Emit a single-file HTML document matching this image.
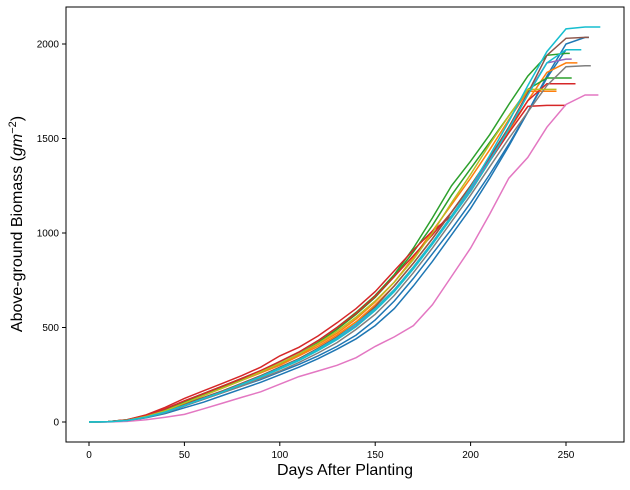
<!DOCTYPE html>
<html><head><meta charset="utf-8"><style>
body{margin:0;background:#fff;}
svg text{font-family:"Liberation Sans",sans-serif;}
</style></head><body>
<svg id="chart" width="630" height="485">
<rect x="66" y="7" width="558" height="435" fill="#fff" stroke="#000" stroke-width="1"/>
<g id="lines"></g><g id="axes"></g>
<text x="345" y="475" font-size="16" text-anchor="middle">Days After Planting</text>
<text transform="translate(22,224) rotate(-90)" font-size="16" text-anchor="middle">Above-ground Biomass (<tspan font-style="italic">gm</tspan><tspan dy="-6" font-size="11">−2</tspan><tspan dy="6">)</tspan></text>
</svg>
<script>
const xTicks=[0,50,100,150,200,250];
const yTicks=[0,500,1000,1500,2000];
const colors=["#1f77b4","#1f77b4","#ff7f0e","#ff7f0e","#2ca02c","#2ca02c","#d62728","#d62728","#9467bd","#8c564b","#e377c2","#7f7f7f","#bcbd22","#17becf","#17becf"];
const endDays=[255,262,256,245,252,253,250,255,253,262,267,263,245,268,258];
const blue1=[0,1,8,25,50,85,120,155,190,225,265,305,350,400,460,540,640,760,890,1020,1160,1310,1470,1640,1820,1970];
const blue2=[0,1,7,22,45,75,105,140,175,210,250,290,335,385,440,510,600,720,850,990,1130,1290,1460,1640,1830,2000,2035];
const orange1=[0,2,10,30,60,100,140,180,220,260,300,350,400,460,530,620,720,840,970,1110,1250,1390,1540,1700,1850,1900];
const orange2=[0,2,10,31,62,102,142,182,222,262,305,355,410,470,545,635,740,870,1010,1150,1290,1440,1600,1750,1750];
const green1=[0,2,12,35,70,110,150,190,230,270,320,370,430,500,580,670,780,920,1080,1250,1380,1520,1680,1830,1940,1950];
const green2=[0,2,11,32,65,105,145,185,225,265,310,360,420,490,570,660,770,900,1040,1200,1340,1480,1620,1760,1820,1820];
const red1=[0,2,12,38,78,125,165,205,245,290,350,395,455,525,600,690,800,910,1010,1090,1220,1380,1530,1670,1675,1675];
const red2=[0,2,11,34,70,112,150,190,230,272,320,370,430,500,575,665,770,880,990,1110,1250,1400,1550,1700,1790,1790];
const purple=[0,1,9,28,55,90,125,160,200,240,285,330,385,440,510,600,700,820,950,1090,1230,1390,1560,1740,1900,1920];
const brown=[0,1,9,28,57,95,130,165,205,245,290,335,390,450,520,610,720,840,970,1110,1250,1400,1560,1740,1940,2030,2035];
const pink=[0,0,3,12,25,40,70,100,130,160,200,240,270,300,340,400,450,510,620,770,920,1100,1290,1400,1560,1680,1730];
const gray=[0,1,8,24,50,85,120,155,190,230,270,315,365,420,490,570,670,790,920,1060,1200,1350,1500,1640,1780,1880,1885];
const olive=[0,1,9,30,60,100,140,180,220,265,310,360,415,480,555,640,740,860,1000,1160,1310,1470,1620,1760,1760];
const cyan=[0,1,8,25,52,88,125,160,200,240,285,330,385,445,520,600,700,820,950,1090,1240,1410,1590,1780,1960,2080,2090];
const blue3=[0,1,8,26,53,88,124,160,198,238,280,325,378,436,505,590,690,810,940,1080,1220,1380,1550,1730,1900,1970];
const series=[blue1,blue2,orange1,orange2,green1,green2,red1,red2,purple,brown,pink,gray,olive,cyan,blue3];
const NS="http://www.w3.org/2000/svg";
function xs(d){return 89+d*(566-89)/250;}
function ys(v){return 422-v*(422-44)/2000;}
const lg=document.getElementById('lines'), ax=document.getElementById('axes');
series.forEach((vals,i)=>{
  const pts=vals.map((v,j)=>[xs(Math.min(j*10,endDays[i])),ys(v)]);
  pts.push([xs(endDays[i]),ys(vals[vals.length-1])]);
  const p=document.createElementNS(NS,'polyline');
  p.setAttribute('points',pts.map(q=>q[0].toFixed(1)+','+q[1].toFixed(1)).join(' '));
  p.setAttribute('fill','none');p.setAttribute('stroke',colors[i]);p.setAttribute('stroke-width','1.5');
  
  
  lg.appendChild(p);
});
xTicks.forEach(t=>{
  const l=document.createElementNS(NS,'line');
  l.setAttribute('x1',xs(t));l.setAttribute('x2',xs(t));l.setAttribute('y1',442);l.setAttribute('y2',446);l.setAttribute('stroke','#000');
  
  
  ax.appendChild(l);
  const tx=document.createElementNS(NS,'text');
  tx.setAttribute('x',xs(t));tx.setAttribute('y',458);tx.setAttribute('font-size','10');tx.setAttribute('text-anchor','middle');
  tx.textContent=t;
  
  
  ax.appendChild(tx);
});
yTicks.forEach(t=>{
  const l=document.createElementNS(NS,'line');
  l.setAttribute('x1',62);l.setAttribute('x2',66);l.setAttribute('y1',ys(t));l.setAttribute('y2',ys(t));l.setAttribute('stroke','#000');
  
  
  ax.appendChild(l);
  const tx=document.createElementNS(NS,'text');
  tx.setAttribute('x',59);tx.setAttribute('y',ys(t)+3.5);tx.setAttribute('font-size','10');tx.setAttribute('text-anchor','end');
  tx.textContent=t;
  
  
  ax.appendChild(tx);
});
</script>
</body></html>
